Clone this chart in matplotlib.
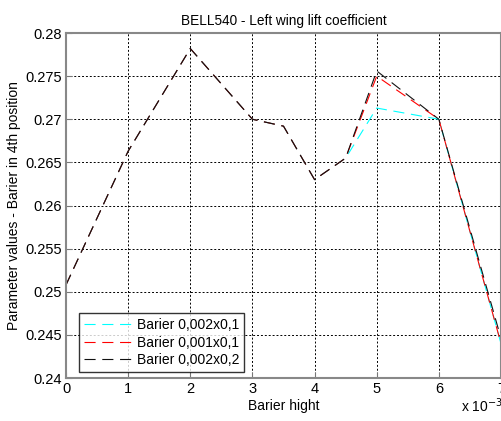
import numpy as np
import matplotlib
matplotlib.use('Agg')
import matplotlib.pyplot as plt

plt.rcParams['font.family'] = ['Liberation Sans', 'DejaVu Sans']

# barier hight (x 10^-3)
x = [0, 1, 2, 3, 3.5, 4, 4.5, 5, 6, 7]

# lift coefficient for each barier
cyan_vals = [0.2508, 0.2663, 0.2782, 0.2700, 0.2692, 0.2630, 0.2655, 0.2713, 0.2700, 0.2440]
red_vals = [0.2508, 0.2663, 0.2782, 0.2700, 0.2692, 0.2630, 0.2655, 0.2750, 0.2700, 0.2440]
black_vals = [0.2508, 0.2663, 0.2782, 0.2700, 0.2692, 0.2630, 0.2655, 0.2756, 0.2700, 0.2446]

labels = ['Barier 0,002x0,1', 'Barier 0,001x0,1', 'Barier 0,002x0,2']
xticks = [0, 1, 2, 3, 4, 5, 6, 7]
yticks = [0.24, 0.245, 0.25, 0.255, 0.26, 0.265, 0.27, 0.275, 0.28]
ytick_labels = ['0.24', '0.245', '0.25', '0.255', '0.26', '0.265', '0.27', '0.275', '0.28']

fig = plt.figure(figsize=(5.02, 4.21), dpi=100)
ax = fig.add_axes([0.1315, 0.1021, 0.8665, 0.8195])

dash = (0, (10, 6))
ax.plot(x, cyan_vals, color='#00ffff', linestyle=dash, linewidth=0.8, label=labels[0])
ax.plot(x, red_vals, color='#ff0000', linestyle=dash, linewidth=0.8, label=labels[1])
ax.plot(x, black_vals, color='#111111', linestyle=dash, linewidth=0.8, label=labels[2])

ax.set_xlim(0, 7)
ax.set_ylim(0.24, 0.28)
ax.set_xticks(xticks)
ax.set_yticks(yticks)
ax.set_yticklabels(ytick_labels)
ax.tick_params(direction='in', labelsize=10.5, length=4, color='#777777', pad=3)
ax.grid(True, color='black', linestyle=(0, (2, 2)), linewidth=0.7)
for s in ax.spines.values():
    s.set_color('#888888')
    s.set_linewidth(1.5)

ax.set_title('BELL540 - Left wing lift coefficient', fontsize=9.8, pad=6)
ax.set_xlabel('Barier hight', fontsize=10, labelpad=2)
ax.set_ylabel('Parameter values - Barier in 4th position', fontsize=10, labelpad=3)
fig.text(0.918, 0.022, r'x 10$^{-3}$', fontsize=10)

leg = ax.legend(loc='lower left', bbox_to_anchor=(0.03, 0.017), borderaxespad=0,
                fontsize=10, handlelength=3.4, frameon=True, fancybox=False,
                borderpad=0.35, labelspacing=0.25, handletextpad=0.4)
leg.get_frame().set_edgecolor('black')
leg.get_frame().set_linewidth(1)

plt.savefig('out.png', dpi=100)
